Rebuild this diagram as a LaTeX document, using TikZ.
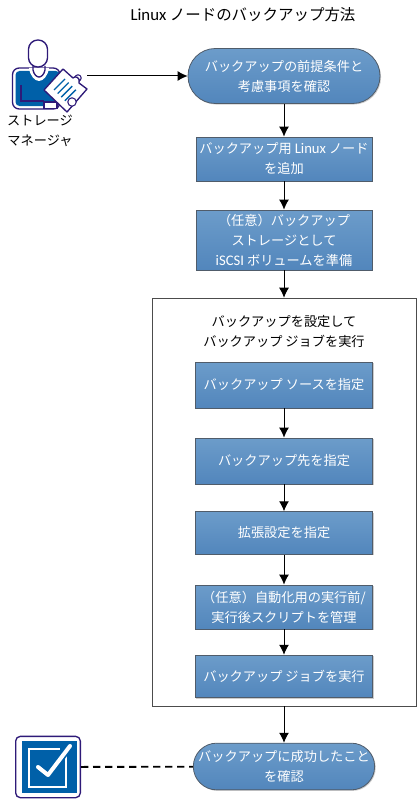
\documentclass[tikz,border=0pt]{standalone}
\usepackage{fontspec}
\setmainfont{Noto Sans CJK JP}
\newfontfamily\latinfont{Carlito}
\usetikzlibrary{arrows.meta,shadows}
\definecolor{steptop}{RGB}{108,156,202}
\definecolor{stepbot}{RGB}{82,134,188}
\definecolor{stepedge}{RGB}{80,92,106}
\definecolor{iconblue}{RGB}{0,96,168}
\definecolor{iconline}{RGB}{46,26,120}
\newcommand{\lat}[1]{{\latinfont\fontsize{11}{15}\selectfont #1}}
\tikzset{
  softshadow/.style={drop shadow={shadow xshift=0.8pt,shadow yshift=-0.8pt,opacity=0.2,fill=black}},
  stepbox/.style={draw=stepedge,line width=0.6pt,top color=steptop,bottom color=stepbot,text=white,align=center,inner sep=0pt,font=\fontsize{9.9}{15}\selectfont,softshadow},
  pillbox/.style={stepbox},
  flow/.style={draw=black,line width=0.75pt,-{Latex[length=7.5pt,width=7.5pt]}},
  plain/.style={align=center,inner sep=0pt,font=\fontsize{9.9}{15}\selectfont}
}
\begin{document}
\begin{tikzpicture}[x=0.75pt,y=0.75pt,yscale=-1,xscale=1]
\useasboundingbox (0,0) rectangle (418,799);

% title
\node (title) [plain,font=\fontsize{11.6}{15}\selectfont] at (243,15) {\lat{\fontsize{12.6}{15}\selectfont Linux} ノードのバックアップ方法};

% group frame
\node (group) [draw=black!70,fill=white,minimum width=198pt,minimum height=306pt,inner sep=0pt,softshadow] at (284,502) {};
\node (grouptitle) [plain] at (284,331.5) {バックアップを設定して\\バックアップ ジョブを実行};

% steps
\node (prereq) [pillbox,rounded corners=20.5pt,minimum width=144pt,minimum height=41.25pt] at (284,76) {バックアップの前提条件と\\考慮事項を確認};
\node (addnode) [stepbox,minimum width=132pt,minimum height=33pt] at (284,159) {バックアップ用 \lat{Linux} ノード\\を追加};
\node (iscsi) [stepbox,minimum width=132pt,minimum height=45pt] at (284,240) {（任意）バックアップ\\ストレージとして\\\lat{iSCSI} ボリュームを準備};
\node (source) [stepbox,minimum width=133pt,minimum height=34.5pt] at (284,385) {バックアップ ソースを指定};
\node (dest) [stepbox,minimum width=133pt,minimum height=34.5pt] at (284,461) {バックアップ先を指定};
\node (adv) [stepbox,minimum width=133pt,minimum height=32pt] at (284,533) {拡張設定を指定};
\node (script) [stepbox,minimum width=133pt,minimum height=33pt] at (284,607) {（任意）自動化用の実行前/\\実行後スクリプトを管理};
\node (run) [stepbox,minimum width=133pt,minimum height=32pt] at (284,676.5) {バックアップ ジョブを実行};
\node (verify) [pillbox,rounded corners=17.5pt,minimum width=136pt,minimum height=35pt] at (284,766.5) {バックアップに成功したこと\\を確認};

% manager icon
\draw [iconline,line width=1pt,fill=white,rounded corners=5pt] (12.5,68) rectangle (60,109);
\draw [draw=none,fill=iconblue,rounded corners=3pt] (15.5,71) rectangle (60,106);
\fill [white] (29,68) .. controls (30,76) and (35,81) .. (39,81) .. controls (43,81) and (48,76) .. (49,68) -- cycle;
\draw [iconline,line width=1pt] (33,66) -- (33,70) .. controls (34,75) and (37,77) .. (39,77) .. controls (41,77) and (44,75) .. (45,70) -- (45,66);
\draw [iconline,line width=1pt,fill=white,rounded corners=7pt] (28.5,40) rectangle (47.5,67);
\draw [iconline,line width=1pt] (21,85) -- (21,101) -- (44,101);
\draw [iconline,line width=0.8pt,fill=white] (44,102) rectangle (57,108.5);
\draw [iconline,line width=0.8pt,fill=white] (78,78) circle (3.2);
\draw [iconline,line width=1pt,fill=white,line join=round] (63,69) -- (73,78) .. controls (75,75) and (81,78) .. (79,83) -- (87,89) -- (67,112) -- (44,90) -- cycle;
\draw [iconline,line width=0.8pt,fill=white] (72,102) circle (4.2);
\foreach \s in {0,1,2,3}
  \draw [iconblue,line width=1pt] (54+\s*3.6,90+\s*3.6) -- (65+\s*3.6,79+\s*3.6);
\node (manager) [plain] at (40,131) {ストレージ\\マネージャ};
\coordinate (managerout) at (87,76);

% verify icon
\node (checkicon) [draw=iconline,line width=1pt,fill=white,rounded corners=3.5pt,minimum width=48.5pt,minimum height=46pt,inner sep=0pt] at (48,767) {};
\fill [iconblue] (22,741) rectangle (77,793);
\draw [white,line width=2pt] (66,755) -- (66,787) -- (29,787) -- (29,749) -- (60,749);
\draw [iconblue,line width=5.5pt] (38,767) -- (48,775) -- (70,746);
\draw [white,line width=3pt,line cap=round,line join=round] (38,767) -- (48,775) -- (70,746);

% connectors
\draw [flow] (managerout) -- (prereq);
\draw [flow] (prereq) -- (addnode);
\draw [flow] (addnode) -- (iscsi);
\draw [flow] (iscsi) -- (group);
\draw [flow] (source) -- (dest);
\draw [flow] (dest) -- (adv);
\draw [flow] (adv) -- (script);
\draw [flow] (script) -- (run);
\draw [flow] (group) -- (verify);
\draw [line width=1.4pt,dash pattern={on 5.5pt off 3.5pt}] (checkicon) -- (verify);
\end{tikzpicture}
\end{document}
